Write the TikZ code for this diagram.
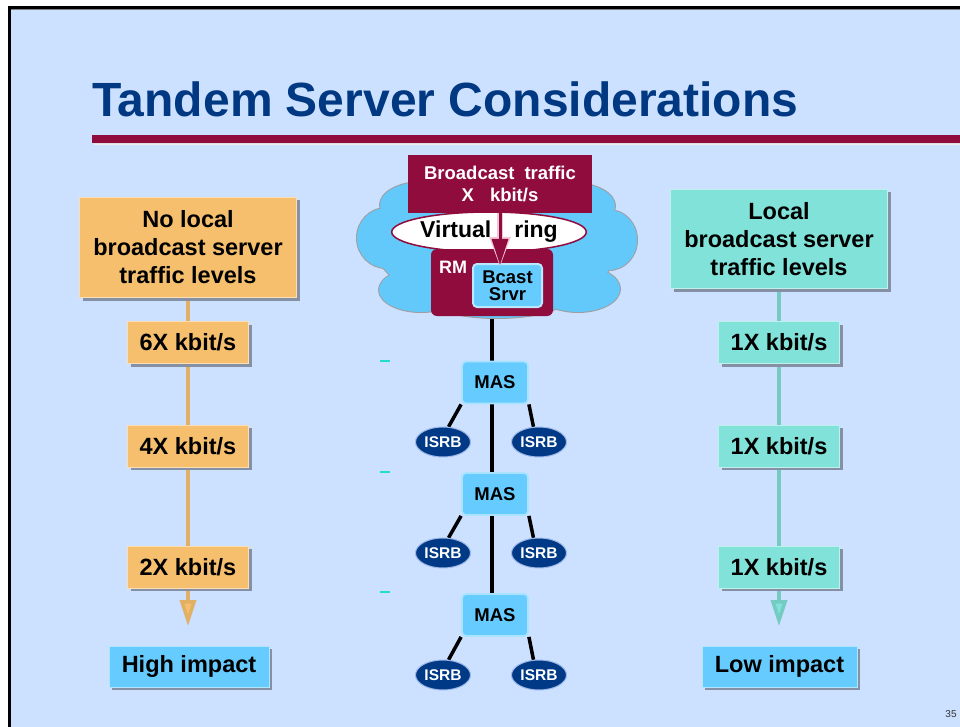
\documentclass[tikz,border=0pt]{standalone}
\usepackage{fontspec}
\setmainfont{Liberation Sans}
\usetikzlibrary{shapes.geometric,shadows,arrows.meta}
\definecolor{slidebg}{HTML}{CCE0FF}
\definecolor{titleblue}{HTML}{003882}
\definecolor{wine}{HTML}{8F0C3D}
\definecolor{winerim}{HTML}{F2C6D6}
\definecolor{apricot}{HTML}{F5BF6D}
\definecolor{aqua}{HTML}{80E2D8}
\definecolor{sky}{HTML}{66CCFF}
\definecolor{cloudblue}{HTML}{62C9FA}
\definecolor{navyoval}{HTML}{003A87}
\definecolor{ovalrim}{HTML}{9DB8E6}
\definecolor{shade}{HTML}{8690A4}
\definecolor{dashteal}{HTML}{22DDCC}
\pgfdeclarelayer{slide}
\pgfdeclarelayer{links}
\pgfsetlayers{slide,links,main}
\newcommand\fsz[2]{\fontsize{#1}{#2}\selectfont\bfseries}

\begin{document}
\begin{tikzpicture}[x=1pt,y=-1pt,
  shadowed/.style={drop shadow={shadow xshift=3pt,shadow yshift=-3pt,fill=shade,opacity=1}},
  hdrbox/.style={rectangle, shadowed, minimum width=217, minimum height=100,
    align=center, font=\fsz{23.5}{28}, inner sep=0},
  ratebox/.style={rectangle, shadowed, minimum width=121, minimum height=42,
    font=\fsz{23.5}{28}, inner sep=0},
  impactbox/.style={rectangle, shadowed, fill=sky, draw=white!50!sky,
    minimum height=41, font=\fsz{23.5}{28}, inner sep=0},
  masbox/.style={rectangle, rounded corners=4, fill=sky, draw=white!45!sky,
    line width=1.8, minimum width=66, minimum height=42, font=\fsz{18.5}{20}, inner sep=0},
  isrb/.style={ellipse, fill=navyoval, draw=ovalrim, line width=1, minimum width=55,
    minimum height=30, inner sep=0, text=white, font=\fsz{15.5}{16}},
  orangeline/.style={line width=3.5, draw=apricot!92!black},
  tealline/.style={line width=3.5, draw=aqua!90!black},
  spine/.style={line width=3.2},
  twig/.style={line width=3.5},
  tinydash/.style={draw=dashteal, line width=1.6},
]
\useasboundingbox (0,0) rectangle (960,727);

% slide background and frame
\begin{pgfonlayer}{slide}
  \fill[white] (0,0) rectangle (960,727);
  \fill[slidebg] (9,8) rectangle (960,727);
  \draw[gray, line width=1] (10,9.8) -- (960,9.8);
  \draw[line width=2.6] (9.6,727) -- (9.6,7.8) -- (960,7.8);
\end{pgfonlayer}

% title and rule
\node[anchor=base west, font=\fsz{48}{48}, text=titleblue, inner sep=0] (title)
  at (92,117) {Tandem Server Considerations};
\fill[shade] (94,137) rectangle (960,145);
\fill[wine] (92,135) rectangle (960,143);

% left column: no local broadcast server
\node[hdrbox, fill=apricot, draw=white!50!apricot] (hdrL) at (188,247.5)
  {No local\\broadcast server\\traffic levels};
\node[ratebox, fill=apricot, draw=white!50!apricot] (l6) at (188,342.5) {6X kbit/s};
\node[ratebox, fill=apricot, draw=white!50!apricot] (l4) at (188,446) {4X kbit/s};
\node[ratebox, fill=apricot, draw=white!50!apricot] (l2) at (188,567) {2X kbit/s};
\coordinate (endL) at (188,626);
\node[impactbox, minimum width=160] (hi) at (189,666.5) {High impact};

% right column: local broadcast server
\node[hdrbox, fill=aqua, draw=white!50!aqua, minimum height=99] (hdrR) at (779,239)
  {Local\\broadcast server\\traffic levels};
\node[ratebox, fill=aqua, draw=white!50!aqua] (r1) at (779,342.5) {1X kbit/s};
\node[ratebox, fill=aqua, draw=white!50!aqua] (r2) at (779,446) {1X kbit/s};
\node[ratebox, fill=aqua, draw=white!50!aqua] (r3) at (779,567) {1X kbit/s};
\coordinate (endR) at (779,626);
\node[impactbox, minimum width=155] (lo) at (779.5,666.5) {Low impact};

\begin{pgfonlayer}{links}
  \draw[orangeline] (hdrL.south) -- (l6.north);
  \draw[orangeline] (l6.south) -- (l4.north);
  \draw[orangeline] (l4.south) -- (l2.north);
  \draw[orangeline, -{Triangle[width=16pt,length=26pt,fill=apricot]}] (l2.south) -- (endL);
  \draw[tealline] (hdrR.south) -- (r1.north);
  \draw[tealline] (r1.south) -- (r2.north);
  \draw[tealline] (r2.south) -- (r3.north);
  \draw[tealline, -{Triangle[width=16pt,length=26pt,fill=aqua]}] (r3.south) -- (endR);
\end{pgfonlayer}

% centre: cloud built from overlapping lobes (outline pass, then fill pass)
\foreach \cx/\cy/\rx/\ry in {497/250/120/55, 386/238/29/30, 422/205/42/23,
    573/206/42/23, 609/240/28/30, 421/290/42/22, 578/289/42/23, 497/298/70/20} {
  \draw[gray!75, line width=2] (\cx,\cy) ellipse [x radius=\rx, y radius=\ry];
}
\foreach \cx/\cy/\rx/\ry in {497/250/120/55, 386/238/29/30, 422/205/42/23,
    573/206/42/23, 609/240/28/30, 421/290/42/22, 578/289/42/23, 497/298/70/20} {
  \fill[cloudblue] (\cx,\cy) ellipse [x radius=\rx, y radius=\ry];
}

\node[ellipse, fill=white, draw=wine, line width=1.5, minimum width=178,
  minimum height=40, inner sep=0, font=\fsz{23}{24}] (ring) at (489,232)
  {Virtual\hspace{23pt}ring};
\node[rectangle, fill=wine, minimum width=184, minimum height=58, text=white,
  align=center, font=\fsz{18.5}{22}, inner sep=0] (bt) at (500,184)
  {Broadcast\hspace{10pt}traffic\\X\hspace{16pt}kbit/s};
\node[rectangle, rounded corners=6, fill=wine, minimum width=122, minimum height=67,
  inner sep=0] (rm) at (492,282.5) {};
\node[font=\fsz{18}{18}, text=white, inner sep=0] (rmlbl) at (453,267) {RM};
\node[rectangle, rounded corners=4, fill=sky, draw=white!55!sky, line width=2,
  minimum width=69, minimum height=43, align=center, font=\fsz{18.5}{17}, inner sep=0]
  (bs) at (507.5,285.5) {Bcast\\Srvr};
\coordinate (btip) at (500,265);
\coordinate (btipr) at (500,267);
% feed arrow: pale rim first, then the wine arrow on top
\draw[line width=5.5, draw=winerim, -{Triangle[width=20pt,length=30pt]}] (bt.south) -- (btipr);
\draw[line width=3, draw=wine, -{Triangle[width=16pt,length=26pt]}] (bt.south) -- (btip);

% centre: MAS chain with ISRBs
\node[masbox] (m1) at (495,382.5) {MAS};
\node[masbox] (m2) at (495,494) {MAS};
\node[masbox] (m3) at (495,615) {MAS};
\node[isrb] (a1) at (443,442) {ISRB};
\node[isrb] (b1) at (539,442) {ISRB};
\node[isrb] (a2) at (443,553) {ISRB};
\node[isrb] (b2) at (539,553) {ISRB};
\node[isrb] (a3) at (443,675) {ISRB};
\node[isrb] (b3) at (539,675) {ISRB};

\begin{pgfonlayer}{links}
  \draw[spine] (rm.south) -- (rm.south |- m3.north);
  \foreach \m/\a/\b in {m1/a1/b1, m2/a2/b2, m3/a3/b3} {
    \draw[twig] (\m.south west) -- (\a.70);
    \draw[twig] (\m.south east) -- (\b.110);
  }
\end{pgfonlayer}

% small marks at the left of the chain
\draw[tinydash] (380,361) -- (390,361);
\draw[tinydash] (380,472) -- (390,472);
\draw[tinydash] (380,592) -- (390,592);

% page number
\node[font=\fontsize{10}{10}\selectfont, text=black!80, inner sep=0] (pg) at (951,714) {35};
\end{tikzpicture}
\end{document}
